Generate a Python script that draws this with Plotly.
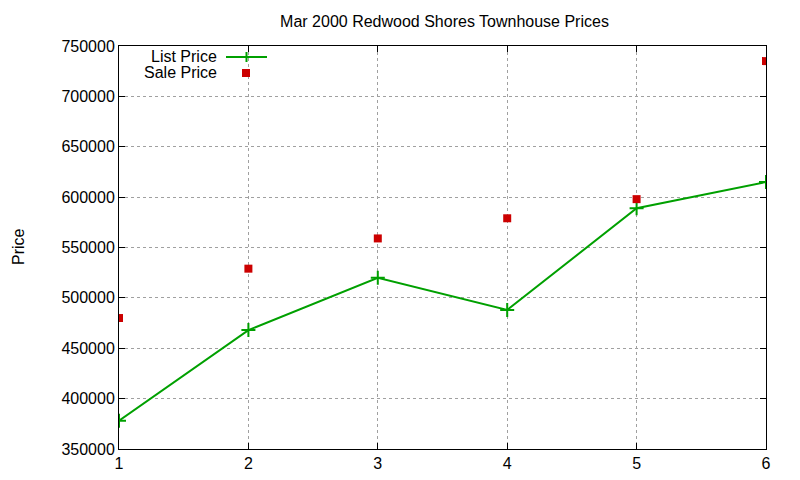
import plotly.graph_objects as go

x_vals = [1, 2, 3, 4, 5, 6]
list_price = [378000, 468000, 520000, 488000, 589000, 615000]
sale_price = [480000, 529000, 559000, 579000, 598000, 735000]
y_ticks = [350000, 400000, 450000, 500000, 550000, 600000, 650000, 700000, 750000]

GREEN = "#00a000"
RED = "#cc0000"
FONT = "Liberation Sans, Arial, sans-serif"

fig = go.Figure()
fig.add_trace(go.Scatter(
    x=x_vals, y=list_price, mode="lines+markers", name="List Price",
    line=dict(color=GREEN, width=2),
    marker=dict(symbol="cross-thin", size=10, line=dict(color=GREEN, width=2)),
    showlegend=False,
))
fig.add_trace(go.Scatter(
    x=x_vals, y=sale_price, mode="markers", name="Sale Price",
    marker=dict(symbol="square", size=8, color=RED, line=dict(width=0)),
    showlegend=False,
))

OFF = 7  # page body offset
L, R, T, B = 118 - OFF, 35 + OFF, 45 - OFF, 32 + OFF
W, H = 800, 480
pw, ph = W - L - R, H - T - B

def px(xp):
    return (xp - OFF - L) / pw

def py(yp):
    return 1 - (yp - OFF - T) / ph

# Custom gnuplot-style legend
fig.add_annotation(x=px(218), y=py(55.5), xref="paper", yref="paper", text="List Price",
                   showarrow=False, xanchor="right", yanchor="middle",
                   font=dict(family=FONT, size=16, color="black"))
fig.add_annotation(x=px(218), y=py(71.5), xref="paper", yref="paper", text="Sale Price",
                   showarrow=False, xanchor="right", yanchor="middle",
                   font=dict(family=FONT, size=16, color="black"))
fig.add_shape(type="line", xref="paper", yref="paper", x0=px(225), x1=px(266),
              y0=py(56), y1=py(56), line=dict(color=GREEN, width=2))
fig.add_shape(type="line", xref="paper", yref="paper", xsizemode="pixel", ysizemode="pixel",
              xanchor=px(245.5), yanchor=py(56), x0=0, x1=0, y0=-5, y1=5,
              line=dict(color=GREEN, width=2))
fig.add_shape(type="rect", xref="paper", yref="paper", xsizemode="pixel", ysizemode="pixel",
              xanchor=px(245), yanchor=py(72), x0=-4, x1=4, y0=-4, y1=4,
              fillcolor=RED, line=dict(width=0))

# Y-axis title
fig.add_annotation(x=px(18), y=py(246), xref="paper", yref="paper", text="Price",
                   showarrow=False, xanchor="center", yanchor="middle", textangle=-90,
                   font=dict(family=FONT, size=16, color="black"))

fig.update_layout(
    width=W, height=H,
    margin=dict(l=L, r=R, t=T, b=B),
    paper_bgcolor="white", plot_bgcolor="white",
    font=dict(family=FONT, size=16, color="black"),
    title=dict(text="Mar 2000 Redwood Shores Townhouse Prices",
               x=(443.5 - OFF) / W, xanchor="center",
               y=1 - (20 - OFF) / H, yanchor="middle", font=dict(family=FONT, size=16)),
    showlegend=False,
)
fig.update_xaxes(
    range=[1, 6], tickvals=x_vals, ticktext=[str(v) for v in x_vals],
    showline=True, linecolor="black", linewidth=1, mirror="ticks",
    ticks="inside", ticklen=6, tickcolor="black",
    showgrid=True, gridcolor="#a0a0a0", griddash="dot", gridwidth=1,
    zeroline=False, tickfont=dict(size=16), automargin=False,
)
fig.update_yaxes(
    range=[350000, 750000], tickvals=y_ticks, ticktext=[str(v) for v in y_ticks],
    showline=True, linecolor="black", linewidth=1, mirror="ticks",
    ticks="inside", ticklen=6, tickcolor="black",
    showgrid=True, gridcolor="#a0a0a0", griddash="dot", gridwidth=1,
    zeroline=False, tickfont=dict(size=16), automargin=False,
)

fig.write_html("out.html")
